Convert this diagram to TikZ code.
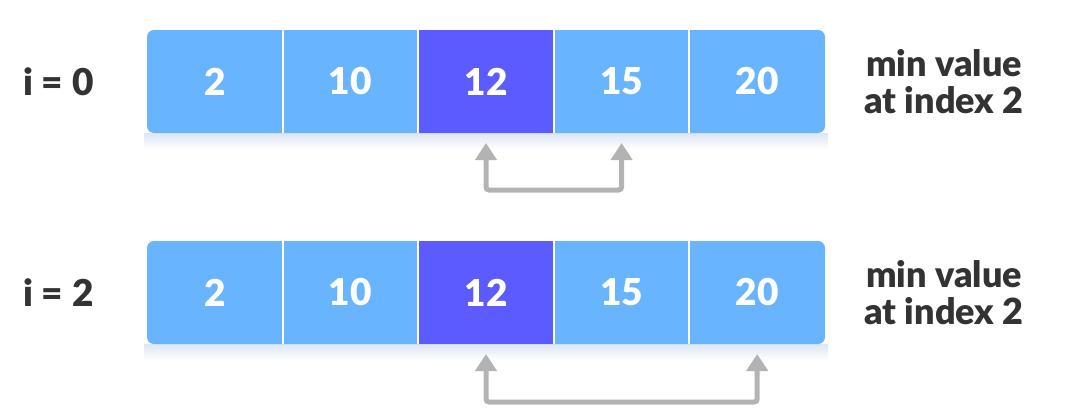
\documentclass[tikz,border=0pt]{standalone}
\usepackage{fontspec}
\setmainfont{Lato}[BoldFont={Lato Black}]
\usetikzlibrary{positioning,arrows.meta,fit,backgrounds}

\definecolor{cellblue}{HTML}{69B4FF}
\definecolor{minpurple}{HTML}{5B5BFF}
\definecolor{labelgray}{HTML}{333333}
\definecolor{arrowgray}{HTML}{B3B3B3}
\definecolor{shadowblue}{HTML}{DCE6F4}

\tikzset{
  cell/.style={minimum width=135.6pt, minimum height=103pt, inner sep=0pt, outer sep=0pt,
    text=white, font=\fontsize{37}{40}\selectfont\bfseries},
  mincell/.style={cell, fill=minpurple},
  rowbox/.style={fill=cellblue, rounded corners=7pt, inner sep=0pt, outer sep=0pt},
  cellsep/.style={white, line width=2pt},
  swaparrow/.style={draw=arrowgray, line width=5pt, rounded corners=3pt,
    {Triangle[width=21pt,length=17pt]}-{Triangle[width=21pt,length=17pt]}},
  rowlabel/.style={text=labelgray, font=\fontsize{37}{40}\selectfont\bfseries},
  note/.style={text=labelgray, align=center, font=\fontsize{36}{37}\selectfont\bfseries},
}

\begin{document}
\begin{tikzpicture}[x=1pt, y=1pt]
\useasboundingbox (0,0) rectangle (1080,-410);

\foreach \r/\yy/\ival/\tgt/\drop in {1/-81.5/0/4/47, 2/-292.5/2/5/48} {
  % the array
  \node[cell] (r\r c1) at (214.8,\yy) {2};
  \node[cell, right=0pt of r\r c1] (r\r c2) {10};
  \node[mincell, right=0pt of r\r c2] (r\r c3) {12};
  \node[cell, right=0pt of r\r c3] (r\r c4) {15};
  \node[cell, right=0pt of r\r c4] (r\r c5) {20};
  \begin{scope}[on background layer]
    \shade[top color=shadowblue, bottom color=white]
      ([xshift=-3pt]r\r c1.south west) rectangle ([xshift=3pt,yshift=-16pt]r\r c5.south east);
    \node[rowbox, fit=(r\r c1) (r\r c5)] (row\r) {};
  \end{scope}
  \foreach \k in {1,...,4}
    \draw[cellsep] (r\r c\k.north east) -- (r\r c\k.south east);

  % labels
  \node[rowlabel, anchor=east] (lab\r) at ([xshift=-50pt]r\r c1.west) {i = \ival};
  \node[note] (note\r) at ([xshift=119pt]r\r c5.east) {min value\\at index 2};

  % compared pair
  \draw[swaparrow] ([yshift=-10pt]r\r c3.south) -- ++(0,-\drop) -| ([yshift=-10pt]r\r c\tgt.south);
}
\end{tikzpicture}
\end{document}
